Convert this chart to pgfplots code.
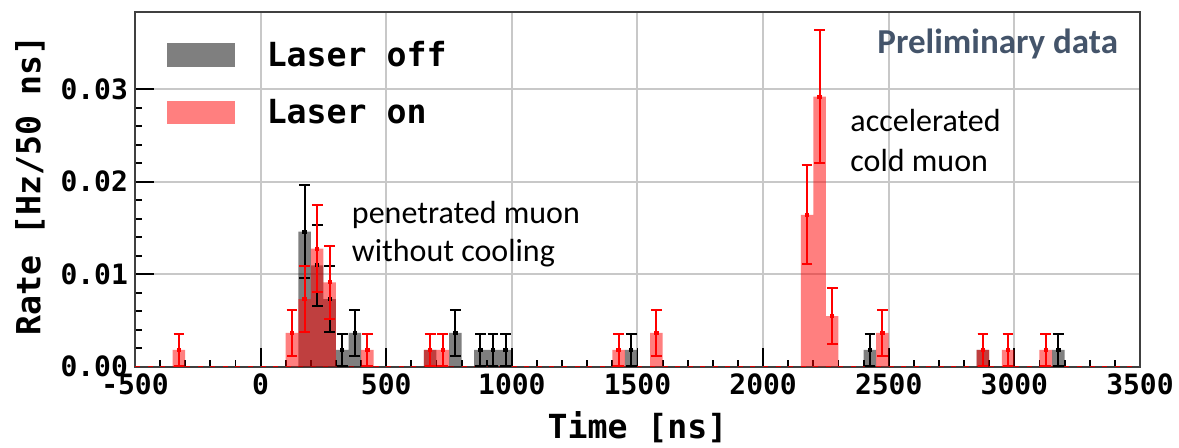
\documentclass[border=0pt]{standalone}
\usepackage{fontspec}
\usepackage{pgfplots}
\usepackage{pgfplotstable}
\pgfplotsset{compat=1.18}
\usetikzlibrary{arrows.meta}
\setmainfont{DejaVu Sans Mono}
\newfontfamily\calfont{Carlito}
\definecolor{prelim}{HTML}{44546A}
\definecolor{gridgray}{RGB}{200,200,200}

% laser off: bin centre, rate, error (one count = 0.001826 Hz/50 ns)
\pgfplotstableread{
x y e
175 0.014608 0.005165
225 0.010956 0.004473
275 0.007304 0.003652
325 0.001826 0.001826
375 0.003652 0.002582
675 0.001826 0.001826
775 0.003652 0.002582
875 0.001826 0.001826
925 0.001826 0.001826
975 0.001826 0.001826
1475 0.001826 0.001826
2425 0.001826 0.001826
2875 0.001826 0.001826
3175 0.001826 0.001826
}\offtab

% laser on
\pgfplotstableread{
x y e
-325 0.001826 0.001826
125 0.003652 0.002582
175 0.007304 0.003652
225 0.012782 0.004831
275 0.009130 0.004083
425 0.001826 0.001826
675 0.001826 0.001826
725 0.001826 0.001826
1425 0.001826 0.001826
1575 0.003652 0.002582
2175 0.016434 0.005478
2225 0.029216 0.007304
2275 0.005478 0.003163
2475 0.003652 0.002582
2875 0.001826 0.001826
2975 0.001826 0.001826
3125 0.001826 0.001826
}\ontab

\begin{document}
\begin{tikzpicture}
\path[use as bounding box] (-67.5pt,-40.65pt) rectangle (522pt,183.35pt);
\begin{axis}[
  width=502.5pt, height=177.5pt, scale only axis,
  xmin=-500, xmax=3500, ymin=0, ymax=0.0384,
  xtick={-500,0,...,3500}, minor x tick num=4,
  ytick={0,0.01,0.02,0.03}, minor y tick num=4,
  xtick pos=left, ytick pos=left, tick align=inside,
  major tick length=9.5pt, minor tick length=3.5pt,
  tick style={black, line width=0.9pt},
  grid=major, major grid style={gridgray, line width=1pt},
  axis line style={black!75, line width=1.1pt},
  scaled y ticks=false,
  /pgf/number format/assume math mode=true,
  /pgf/number format/1000 sep={},
  yticklabel style={/pgf/number format/.cd, fixed, fixed zerofill, precision=2},
  ticklabel style={font=\bfseries\fontsize{14}{16}\selectfont},
  xlabel={Time [ns]}, ylabel={Rate [Hz/50 ns]},
  label style={font=\bfseries\fontsize{16.6}{19}\selectfont},
  xlabel style={at={(axis description cs:0.5,0)}, anchor=center, yshift=-30pt},
  ylabel style={at={(axis description cs:-0.1045,0.51)}, anchor=center},
  legend style={at={(axis description cs:0.0316,0.93)}, anchor=north west,
    draw=none, fill=none, inner sep=0pt, row sep=11pt, column sep=14pt,
    font=\bfseries\fontsize{16.6}{19}\selectfont},
  legend cell align=left,
  legend image code/.code={\fill[#1] (0pt,-5.85pt) rectangle (33.8pt,5.85pt);},
]
\addlegendimage{fill=black, fill opacity=0.5, draw=none}
\addlegendentry{Laser off}
\addlegendimage{fill=red, fill opacity=0.5, draw=none}
\addlegendentry{Laser on}

\addplot[forget plot, red!85!black, line width=0.8pt, dash pattern=on 2.5pt off 3.78pt]
  coordinates {(-500,0) (3500,0)};

\addplot[forget plot, ybar, bar width=50, bar shift=0pt, fill=black, fill opacity=0.5, draw=none]
  table[x=x, y=y] {\offtab};
\addplot[forget plot, ybar, bar width=50, bar shift=0pt, fill=red, fill opacity=0.5, draw=none]
  table[x=x, y=y] {\ontab};

\addplot[forget plot, draw=none, mark=none,
  error bars/.cd, y dir=both, y explicit, error mark=none,
  error bar style={draw=black, line width=1pt, {Bar[width=2.2pt]}-{Bar[width=5.4pt]}}]
  table[x=x, y=y, y error=e] {\offtab};
\addplot[forget plot, draw=none, mark=none,
  error bars/.cd, y dir=both, y explicit, error mark=none,
  error bar style={draw=red, line width=1pt, {Bar[width=2.2pt]}-{Bar[width=5.4pt]}}]
  table[x=x, y=y, y error=e] {\ontab};

\node[anchor=base west, inner sep=0pt, font=\calfont\fontsize{16}{19}\selectfont]
  at (axis cs:362,0.01552) {penetrated muon};
\node[anchor=base west, inner sep=0pt, font=\calfont\fontsize{16}{19}\selectfont]
  at (axis cs:362,0.01136) {without cooling};
\node[anchor=base west, inner sep=0pt, font=\calfont\fontsize{16}{19}\selectfont]
  at (axis cs:2346,0.02543) {accelerated};
\node[anchor=base west, inner sep=0pt, font=\calfont\fontsize{16}{19}\selectfont]
  at (axis cs:2346,0.0211) {cold muon};
\node[anchor=base east, inner sep=0pt, text=prelim, font=\calfont\bfseries\fontsize{17.5}{20}\selectfont]
  at (axis cs:3414,0.0339) {Preliminary data};
\end{axis}
\end{tikzpicture}
\end{document}
